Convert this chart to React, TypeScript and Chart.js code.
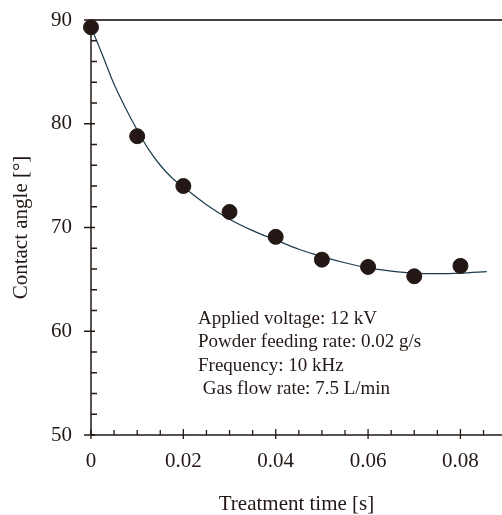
import React, { useEffect, useRef } from "react";
import { Chart, registerables } from "chart.js";

Chart.register(...registerables);

const treatmentTimes = [0, 0.01, 0.02, 0.03, 0.04, 0.05, 0.06, 0.07, 0.08];
const contactAngles = [89.3, 78.8, 74.0, 71.5, 69.1, 66.9, 66.2, 65.3, 66.3];

const fitTimes = [0, 0.0025, 0.005, 0.0075, 0.01, 0.0125, 0.015, 0.0175, 0.02, 0.025, 0.03, 0.035, 0.04, 0.045, 0.05, 0.055, 0.06, 0.065, 0.07, 0.075, 0.08, 0.0857];
const fitAngles = [89.35, 86.6, 83.8, 81.5, 79.4, 77.5, 76.0, 74.8, 73.9, 72.2, 70.8, 69.7, 68.8, 67.9, 67.2, 66.6, 66.1, 65.8, 65.6, 65.55, 65.6, 65.75];

const xTickValues = [0, 0.02, 0.04, 0.06, 0.08];
const xTickLabels = ["0", "0.02", "0.04", "0.06", "0.08"];
const xMinorTicks = [0.005, 0.01, 0.015, 0.025, 0.03, 0.035, 0.045, 0.05, 0.055, 0.065, 0.07, 0.075, 0.085];
const yTickValues = [50, 60, 70, 80, 90];
const yTickLabels = ["50", "60", "70", "80", "90"];
const yMinorTicks = [52, 54, 56, 58, 62, 64, 66, 68, 72, 74, 76, 78, 82, 84, 86, 88];

const conditionLines = [
  "Applied voltage: 12 kV",
  "Powder feeding rate: 0.02 g/s",
  "Frequency: 10 kHz",
  " Gas flow rate: 7.5 L/min",
];

const INK = "#231815";
const SERIF = "'Liberation Serif', 'DejaVu Serif', serif";

const axesPlugin = {
  id: "axesPlugin",
  afterDraw(chart: any) {
    const { ctx, chartArea, scales } = chart;
    const { left, right, top, bottom } = chartArea;
    const xs = scales.x;
    const ys = scales.y;
    ctx.save();
    // top line
    ctx.strokeStyle = "#4a4242";
    ctx.lineWidth = 2;
    ctx.beginPath();
    ctx.moveTo(left, top);
    ctx.lineTo(right, top);
    ctx.stroke();
    // axes
    ctx.strokeStyle = INK;
    ctx.lineWidth = 1.5;
    ctx.beginPath();
    ctx.moveTo(left, top);
    ctx.lineTo(left, bottom);
    ctx.lineTo(right, bottom);
    ctx.stroke();
    ctx.lineWidth = 1.3;
    ctx.beginPath();
    for (const v of xTickValues) {
      const px = xs.getPixelForValue(v);
      ctx.moveTo(px, bottom - 6);
      ctx.lineTo(px, bottom + 4);
    }
    for (const v of xMinorTicks) {
      const px = xs.getPixelForValue(v);
      ctx.moveTo(px, bottom);
      ctx.lineTo(px, bottom - 5);
    }
    for (const v of yTickValues) {
      const py = ys.getPixelForValue(v);
      ctx.moveTo(left - 7, py);
      ctx.lineTo(left + 4, py);
    }
    for (const v of yMinorTicks) {
      const py = ys.getPixelForValue(v);
      ctx.moveTo(left, py);
      ctx.lineTo(left + 6, py);
    }
    ctx.stroke();
    // condition text
    ctx.fillStyle = INK;
    ctx.font = "19px " + SERIF;
    ctx.textAlign = "left";
    ctx.textBaseline = "middle";
    conditionLines.forEach((line, i) => {
      ctx.fillText(line, left + 107, top + 299 + i * 23.3);
    });
    ctx.restore();
  },
};

export default function App() {
  const ref = useRef<HTMLCanvasElement | null>(null);
  useEffect(() => {
    if (!ref.current) return;
    const chart = new Chart(ref.current, {
      type: "scatter",
      data: {
        datasets: [
          {
            type: "line",
            label: "fit",
            data: fitTimes.map((t, i) => ({ x: t, y: fitAngles[i] })),
            borderColor: "#1b3b4b",
            borderWidth: 1.2,
            pointRadius: 0,
            fill: false,
            cubicInterpolationMode: "monotone",
            order: 2,
          } as any,
          {
            type: "scatter",
            label: "Contact angle",
            data: treatmentTimes.map((t, i) => ({ x: t, y: contactAngles[i] })),
            backgroundColor: INK,
            borderColor: INK,
            pointRadius: 7.5,
            pointHoverRadius: 7.5,
            clip: false,
            order: 1,
          } as any,
        ],
      },
      options: {
        animation: false,
        responsive: false,
        maintainAspectRatio: false,
        devicePixelRatio: 1,
        layout: { autoPadding: false, padding: { top: 20, right: 0, left: 0, bottom: 0 } },
        plugins: { legend: { display: false }, tooltip: { enabled: false } },
        scales: {
          x: {
            type: "linear",
            min: 0,
            max: 0.089,
            offset: false,
            grid: { display: false, drawTicks: false },
            border: { display: false },
            afterBuildTicks: (scale: any) => {
              scale.ticks = xTickValues.map((v) => ({ value: v }));
            },
            afterFit: (scale: any) => {
              scale.height = 80;
              scale.paddingLeft = 0;
              scale.paddingRight = 0;
            },
            ticks: {
              autoSkip: false,
              maxRotation: 0,
              padding: 14,
              color: INK,
              font: { family: SERIF, size: 21 },
              callback: (v: any) => {
                const i = xTickValues.findIndex((t) => Math.abs(t - Number(v)) < 1e-9);
                return i >= 0 ? xTickLabels[i] : "";
              },
            },
            title: {
              display: true,
              text: "Treatment time [s]",
              color: INK,
              font: { family: SERIF, size: 21, lineHeight: 1 },
              padding: { top: 0, bottom: 0 },
            },
          },
          y: {
            type: "linear",
            min: 50,
            max: 90,
            grid: { display: false, drawTicks: false },
            border: { display: false },
            afterBuildTicks: (scale: any) => {
              scale.ticks = yTickValues.map((v) => ({ value: v }));
            },
            afterFit: (scale: any) => {
              scale.width = 91;
              scale.paddingTop = 0;
              scale.paddingBottom = 0;
            },
            ticks: {
              autoSkip: false,
              padding: 19,
              color: INK,
              font: { family: SERIF, size: 21 },
              callback: (v: any) => {
                const i = yTickValues.indexOf(Number(v));
                return i >= 0 ? yTickLabels[i] : "";
              },
            },
            title: {
              display: true,
              text: "Contact angle [°]",
              color: INK,
              font: { family: SERIF, size: 21, lineHeight: 1.2 },
              padding: { top: 9, bottom: 0 },
            },
          },
        },
      },
      plugins: [axesPlugin],
    });
    return () => chart.destroy();
  }, []);
  return (
    <div style={{ position: "absolute", left: 0, top: 0, width: 502, height: 515, background: "#fff" }}>
      <canvas ref={ref} width={502} height={515} style={{ display: "block" }} />
    </div>
  );
}
